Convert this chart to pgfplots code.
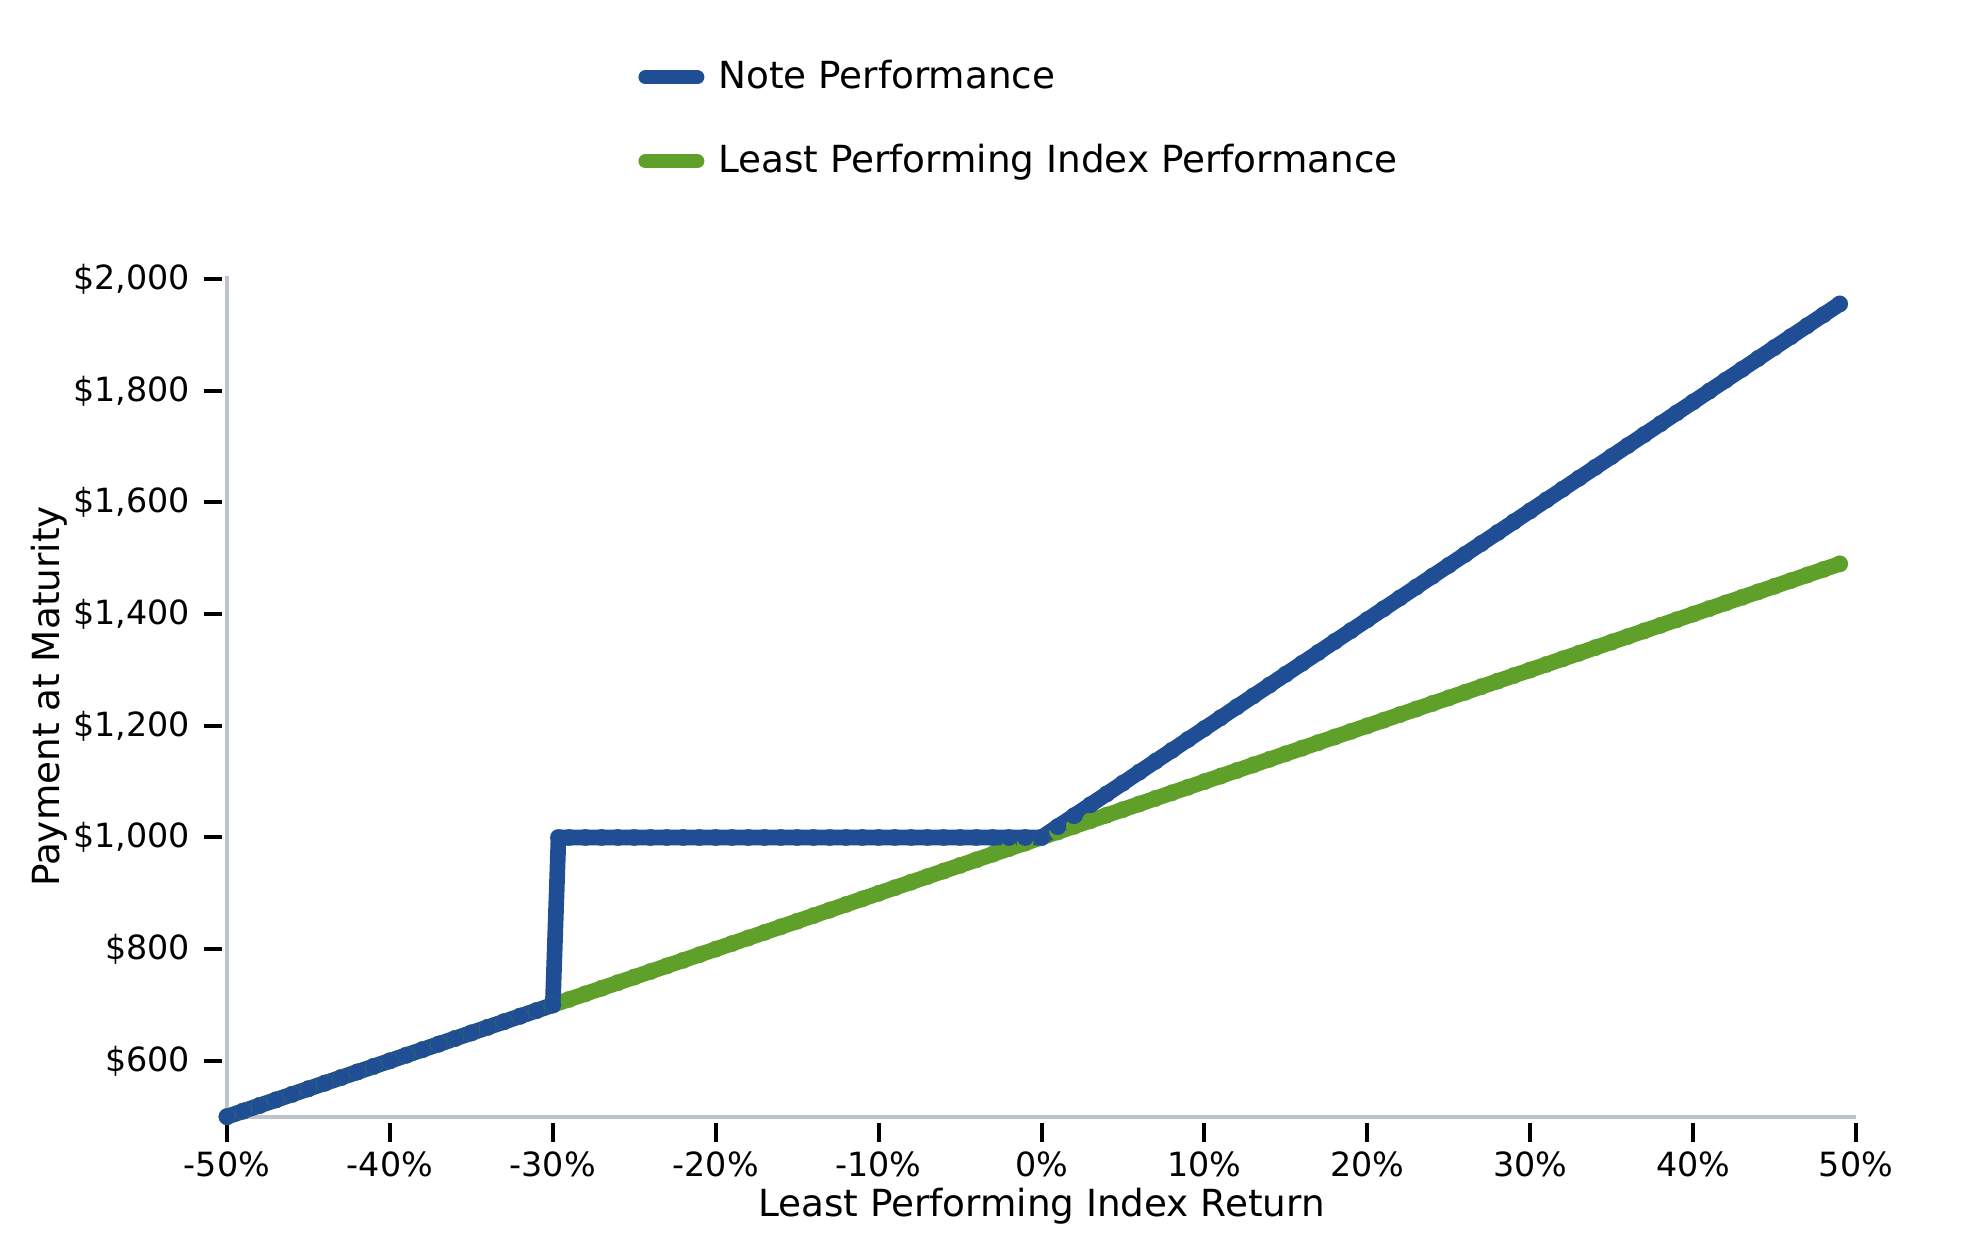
\documentclass[border=0pt]{standalone}
\usepackage{fontspec}
\setmainfont{DejaVu Sans}
\usepackage{pgfplots}
\pgfplotsset{compat=1.18}
\definecolor{noteblue}{HTML}{1F4E94}
\definecolor{idxgreen}{HTML}{5FA02A}
\definecolor{spinegray}{HTML}{BFC4CA}
\begin{document}
\begin{tikzpicture}
\begin{axis}[
  at={(68.1pt,40pt)}, anchor=south west,
  scale only axis, width=488.7pt, height=252.1pt,
  xmin=-50, xmax=50, ymin=500, ymax=2005,
  clip=false,
  axis x line*=bottom, axis y line*=left,
  axis line style={-, draw=spinegray, line width=1.1pt},
  tick align=outside, major tick length=5.5pt,
  tick style={black, line width=1.2pt},
  xtick style={yshift=-2pt},
  ytick style={xshift=-1.5pt},
  xtick={-50,-40,-30,-20,-10,0,10,20,30,40,50},
  xticklabels={-50\%,-40\%,-30\%,-20\%,-10\%,0\%,10\%,20\%,30\%,40\%,50\%},
  ytick={600,800,1000,1200,1400,1600,1800,2000},
  yticklabels={\$600,\$800,{\$1,000},{\$1,200},{\$1,400},{\$1,600},{\$1,800},{\$2,000}},
  ticklabel style={font=\fontsize{10}{12}\selectfont},
  xticklabel style={yshift=-1.5pt},
  yticklabel style={xshift=-2pt},
  xlabel={Least Performing Index Return},
  ylabel={Payment at Maturity},
  label style={font=\fontsize{11.2}{13}\selectfont},
  xlabel style={yshift=3.6pt},
  ylabel style={yshift=-5pt},
  reverse legend,
  legend image code/.code={\draw[line width=4.2pt, line cap=round] (0pt,0pt) -- (15.6pt,0pt);},
  legend style={at={(rel axis cs:0.246,1.0)}, anchor=south west, draw=none, fill=none,
    font=\fontsize{11.2}{13}\selectfont, row sep=11.2pt, yshift=25.3pt,
    /tikz/every odd column/.append style={column sep=2.2pt}},
  legend cell align=left,
]
\addplot[idxgreen, line width=4.7pt, line join=round, mark=*, mark size=2.5pt, mark options={fill=idxgreen, draw=idxgreen, line width=0.01pt}] table {
x y
-50 500
-49 510
-48 520
-47 530
-46 540
-45 550
-44 560
-43 570
-42 580
-41 590
-40 600
-39 610
-38 620
-37 630
-36 640
-35 650
-34 660
-33 670
-32 680
-31 690
-30 700
-29 710
-28 720
-27 730
-26 740
-25 750
-24 760
-23 770
-22 780
-21 790
-20 800
-19 810
-18 820
-17 830
-16 840
-15 850
-14 860
-13 870
-12 880
-11 890
-10 900
-9 910
-8 920
-7 930
-6 940
-5 950
-4 960
-3 970
-2 980
-1 990
0 1000
1 1010
2 1020
3 1030
4 1040
5 1050
6 1060
7 1070
8 1080
9 1090
10 1100
11 1110
12 1120
13 1130
14 1140
15 1150
16 1160
17 1170
18 1180
19 1190
20 1200
21 1210
22 1220
23 1230
24 1240
25 1250
26 1260
27 1270
28 1280
29 1290
30 1300
31 1310
32 1320
33 1330
34 1340
35 1350
36 1360
37 1370
38 1380
39 1390
40 1400
41 1410
42 1420
43 1430
44 1440
45 1450
46 1460
47 1470
48 1480
49 1490
};
\addlegendentry{Least Performing Index Performance}
\addplot[noteblue, line width=4.7pt, line join=round, mark=*, mark size=2.5pt, mark options={fill=noteblue, draw=noteblue, line width=0.01pt}] table {
x y
-50 500
-49 510
-48 520
-47 530
-46 540
-45 550
-44 560
-43 570
-42 580
-41 590
-40 600
-39 610
-38 620
-37 630
-36 640
-35 650
-34 660
-33 670
-32 680
-31 690
-30 700
-29.65 1000
-29 1000
-28 1000
-27 1000
-26 1000
-25 1000
-24 1000
-23 1000
-22 1000
-21 1000
-20 1000
-19 1000
-18 1000
-17 1000
-16 1000
-15 1000
-14 1000
-13 1000
-12 1000
-11 1000
-10 1000
-9 1000
-8 1000
-7 1000
-6 1000
-5 1000
-4 1000
-3 1000
-2 1000
-1 1000
0 1000
1 1019.5
2 1039
3 1058.5
4 1078
5 1097.5
6 1117
7 1136.5
8 1156
9 1175.5
10 1195
11 1214.5
12 1234
13 1253.5
14 1273
15 1292.5
16 1312
17 1331.5
18 1351
19 1370.5
20 1390
21 1409.5
22 1429
23 1448.5
24 1468
25 1487.5
26 1507
27 1526.5
28 1546
29 1565.5
30 1585
31 1604.5
32 1624
33 1643.5
34 1663
35 1682.5
36 1702
37 1721.5
38 1741
39 1760.5
40 1780
41 1799.5
42 1819
43 1838.5
44 1858
45 1877.5
46 1897
47 1916.5
48 1936
49 1955.5
};
\addlegendentry{Note Performance}
\end{axis}
\pgfresetboundingbox
\path[use as bounding box] (0,0) rectangle (593.7pt,375pt);
\end{tikzpicture}
\end{document}
